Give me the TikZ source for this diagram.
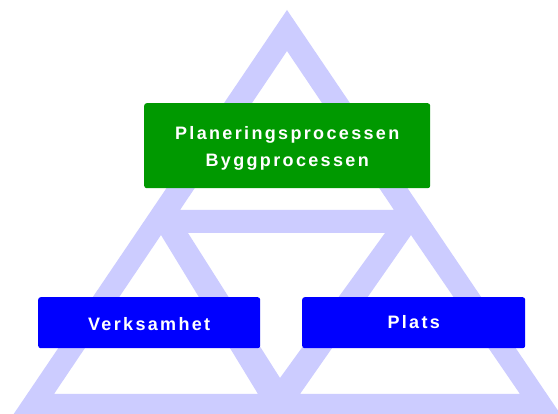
\documentclass[tikz,border=0pt]{standalone}
\usepackage{fontspec}
\newfontfamily\boxfont{Liberation Sans}[LetterSpace=13]
\definecolor{trifill}{HTML}{CCCCFF}
\definecolor{procgreen}{HTML}{009900}
\definecolor{areablue}{HTML}{0000FF}
\tikzset{
  boxbase/.style={rounded corners=2.5pt, inner xsep=0pt, inner ysep=0pt, text=white,
    font=\boxfont\bfseries\fontsize{18}{27}\selectfont, anchor=north west},
  greenbox/.style={boxbase, fill=procgreen, minimum width=286pt},
  bluebox/.style={boxbase, fill=areablue},
}
\begin{document}
\begin{tikzpicture}[x=1pt,y=-1pt]
\useasboundingbox (0,0) rectangle (558,414);
\fill[white] (0,0) rectangle (558,414);
\begin{scope}
  \clip (0,0) rectangle (558,414);
  \fill[trifill, even odd rule]
    (287,10) -- (563,418) -- (11,418) -- cycle
    (287,51) -- (394,210) -- (180,210) -- cycle
    (188,233) -- (385,233) -- (280,378) -- cycle
    (161,235) -- (258,394) -- (54,394) -- cycle
    (411,235) -- (520,394) -- (300,394) -- cycle;
\end{scope}
\node[greenbox, text height=36pt, text depth=49pt] (plan) at (144,103)
  {\begin{tabular}[t]{@{}c@{}}Planeringsprocessen\\Byggprocessen\end{tabular}};
\node[bluebox, minimum width=222pt, text height=33pt, text depth=18pt] (verk) at (38,297) {Verksamhet};
\node[bluebox, minimum width=223pt, text height=31pt, text depth=20pt] (plats) at (302,297) {Plats};
\end{tikzpicture}
\end{document}
